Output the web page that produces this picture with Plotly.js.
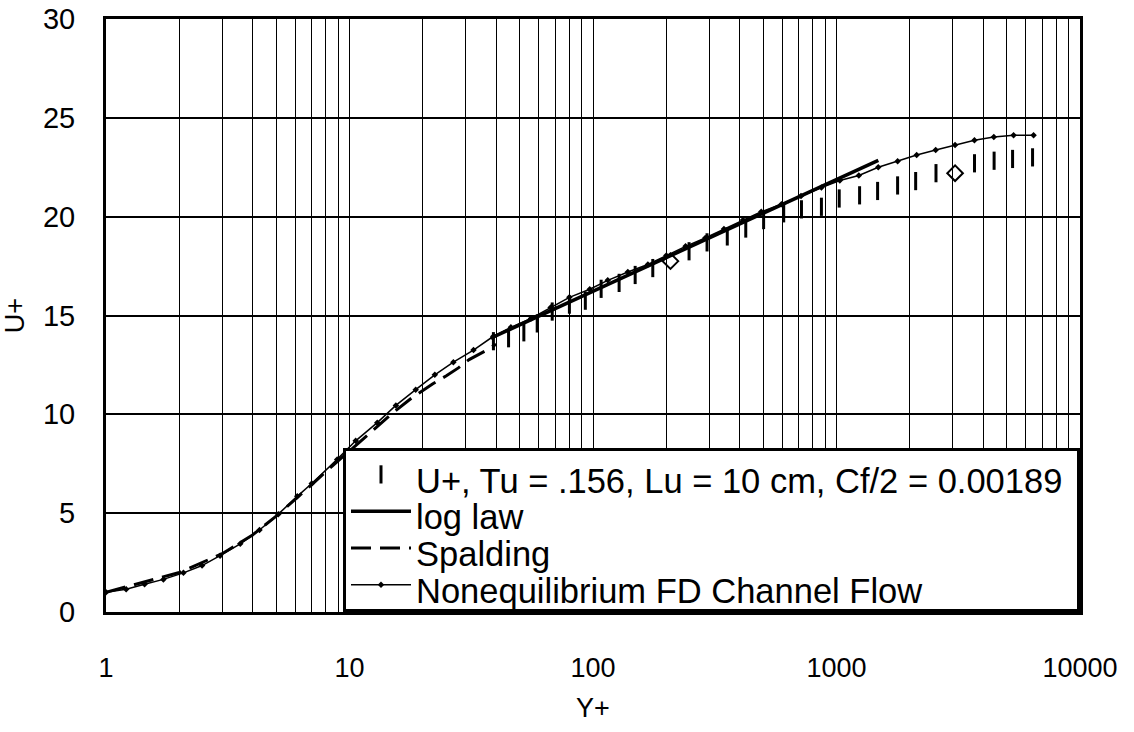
<!DOCTYPE html>
<html>
<head>
<meta charset="utf-8">
<script src="https://cdn.plot.ly/plotly-3.0.1.min.js"></script>
<style>html,body{margin:0;padding:0;background:#fff;}#chart{width:1134px;height:732px;}</style>
</head>
<body>
<div id="chart"></div>
<script>
// Measured U+ (vertical dash markers)
const measY = [39, 45, 52, 59, 68, 80, 93, 108, 128, 149, 176, 248, 294, 356, 424, 502, 607, 718, 867, 1026, 1244, 1475, 1782, 2114, 2562, 3688, 4439, 5286, 6385];
const measU = [13.7, 13.85, 14.15, 14.6, 15.2, 15.55, 15.75, 16.35, 16.65, 17.05, 17.4, 18.25, 18.7, 19.0, 19.4, 19.83, 20.17, 20.37, 20.5, 20.92, 21.08, 21.3, 21.58, 21.8, 22.2, 22.7, 22.83, 22.92, 23.0];
// Measured points drawn as hollow diamonds
const diamY = [208, 3069];
const diamU = [17.75, 22.2];
// Log law line (end points)
const logY = [38, 1485];
const logU = [13.85, 22.85];
// Spalding
const spalY = [1, 2, 3, 4, 5, 6, 7, 8, 9, 10, 11, 13, 15, 18, 22, 25, 28, 31, 36, 40];
const spalU = [1.0, 2.0, 2.95, 3.9, 4.85, 5.7, 6.45, 7.1, 7.65, 8.15, 8.6, 9.4, 10.05, 10.83, 11.55, 11.95, 12.35, 12.77, 13.2, 13.55];
// Nonequilibrium FD Channel Flow
const neY = [1, 1.21, 1.44, 1.72, 2.08, 2.48, 2.94, 3.56, 4.27, 5.1, 6.1, 7.0, 8.9, 10.6, 13, 15.5, 18.7, 22.4, 26.7, 32.3, 39, 46, 55.6, 67, 80, 97, 115, 139, 168, 200, 240, 289, 345, 413, 491, 594, 715, 867, 1032, 1235, 1484, 1782, 2134, 2555, 3068, 3685, 4427, 5336, 6448];
const neU = [1.0, 1.15, 1.4, 1.65, 1.98, 2.35, 2.85, 3.45, 4.15, 4.95, 5.85, 6.5, 7.72, 8.66, 9.58, 10.45, 11.25, 12.0, 12.64, 13.25, 13.95, 14.4, 14.85, 15.4, 15.92, 16.33, 16.78, 17.2, 17.58, 18.03, 18.5, 18.92, 19.37, 19.83, 20.25, 20.63, 21.05, 21.47, 21.83, 22.08, 22.5, 22.8, 23.12, 23.37, 23.62, 23.87, 24.03, 24.12, 24.12];

const xTicks = [1, 10, 100, 1000, 10000];
const xTickText = ['1', '10', '100', '1000', '10000'];
const seriesNames = ['U+, Tu = .156, Lu = 10 cm, Cf/2 = 0.00189', 'log law', 'Spalding', 'Nonequilibrium FD Channel Flow'];

const FONT = 'Liberation Sans, Arial, sans-serif';
// larger legend glyphs on a tighter legend row, nudged down a little
const big = s => '<span style="font-size:34.5px;baseline-shift:-8px">' + s + '</span>';

const traces = [
  {
    x: measY, y: measU, mode: 'markers', type: 'scatter',
    name: big(seriesNames[0] + '\u00A0'),
    marker: {symbol: 'line-ns', size: 13, color: 'black', line: {color: 'black', width: 3}}
  },
  {
    x: logY, y: logU, mode: 'lines', type: 'scatter', name: big(seriesNames[1]),
    line: {color: 'black', width: 3.5}
  },
  {
    x: spalY, y: spalU, mode: 'lines', type: 'scatter', name: big(seriesNames[2]),
    line: {color: 'black', width: 3, dash: '20px,9px'}
  },
  {
    x: neY, y: neU, mode: 'lines+markers', type: 'scatter', name: big(seriesNames[3]),
    line: {color: 'black', width: 1.5},
    marker: {symbol: 'diamond', size: 5, color: 'black'}
  },
  {
    x: diamY, y: diamU, mode: 'markers', type: 'scatter', showlegend: false,
    marker: {symbol: 'diamond-open', size: 12, color: 'black', line: {color: 'black', width: 2}}
  }
];

const layout = {
  width: 1134, height: 732,
  margin: {l: 106, r: 54, t: 19, b: 120},
  paper_bgcolor: 'white', plot_bgcolor: 'white',
  font: {family: FONT, color: 'black', size: 26},
  showlegend: true,
  xaxis: {
    type: 'log', range: [0, 4],
    tickvals: xTicks, ticktext: xTickText,
    showline: true, linecolor: 'black', linewidth: 3, mirror: true,
    showgrid: true, gridcolor: 'black', gridwidth: 1,
    minor: {dtick: 'D1', showgrid: true, gridcolor: 'black', gridwidth: 1, ticks: ''},
    ticks: '', ticklabelstandoff: 30,
    tickfont: {size: 27, family: FONT, color: 'black'},
    zeroline: false,
    title: {text: 'Y+', font: {size: 27, family: FONT, color: 'black'}, standoff: 16}
  },
  yaxis: {
    range: [0, 30], dtick: 5, tick0: 0,
    showline: true, linecolor: 'black', linewidth: 3, mirror: true,
    showgrid: true, gridcolor: 'black', gridwidth: 2,
    ticks: '', ticklabelstandoff: 22,
    tickfont: {size: 29, family: FONT, color: 'black'},
    zeroline: false,
    title: {text: 'U+', font: {size: 27, family: FONT, color: 'black'}, standoff: 14}
  },
  legend: {
    x: 1, y: 0, xanchor: 'right', yanchor: 'bottom',
    bgcolor: 'white', bordercolor: 'black', borderwidth: 3,
    font: {size: 26, family: FONT, color: 'black'},
    itemwidth: 60, tracegroupgap: 0
  }
};

Plotly.newPlot('chart', traces, layout, {displayModeBar: false, staticPlot: true});
</script>
</body>
</html>
